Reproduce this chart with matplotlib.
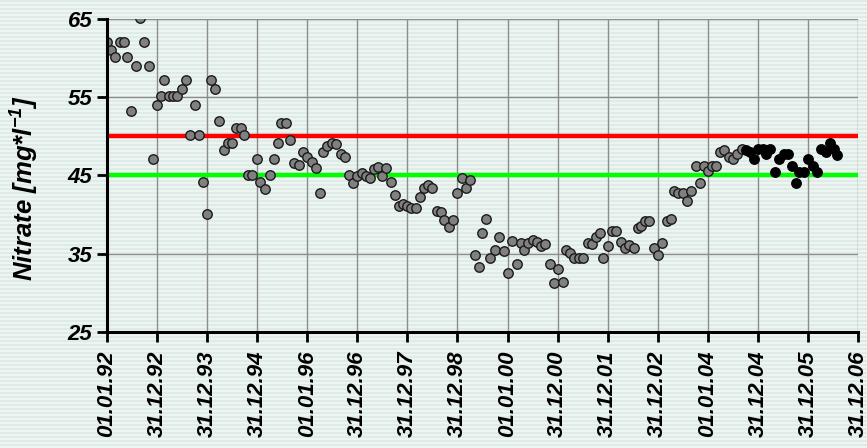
import numpy as np
import matplotlib
matplotlib.use("Agg")
import matplotlib.pyplot as plt

plt.rcParams['font.family'] = ['Liberation Sans', 'DejaVu Sans']
plt.rcParams['mathtext.fontset'] = 'custom'
plt.rcParams['mathtext.rm'] = 'Liberation Sans:italic:bold'
plt.rcParams['mathtext.it'] = 'Liberation Sans:italic:bold'

# x in years since 01.01.92, y nitrate mg/l
jahr_grau = [0.0, 0.08, 0.16, 0.25, 0.33, 0.39, 0.48, 0.57, 0.65, 0.73, 0.83, 0.91,
             1.0, 1.08, 1.14, 1.23, 1.31, 1.40, 1.49, 1.57, 1.66, 1.75, 1.83, 1.92,
             2.0, 2.07, 2.15, 2.24, 2.33, 2.41, 2.5, 2.58, 2.67, 2.73, 2.81, 2.9,
             2.99, 3.05, 3.16, 3.25, 3.33, 3.42, 3.48, 3.57, 3.65, 3.73, 3.83, 3.91,
             4.0, 4.09, 4.17, 4.26, 4.32, 4.4, 4.49, 4.57, 4.67, 4.75, 4.83, 4.92,
             5.0, 5.09, 5.17, 5.25, 5.33, 5.41, 5.5, 5.58, 5.67, 5.75, 5.84, 5.92,
             6.0, 6.08, 6.17, 6.25, 6.33, 6.42, 6.5, 6.59, 6.68, 6.74, 6.83, 6.91,
             7.0, 7.09, 7.17, 7.26, 7.35, 7.43, 7.49, 7.57, 7.66, 7.75, 7.83, 7.92,
             8.0, 8.09, 8.18, 8.27, 8.33, 8.41, 8.5, 8.59, 8.67, 8.75, 8.84, 8.93,
             9.0, 9.11, 9.16, 9.25, 9.33, 9.42, 9.51, 9.6, 9.68, 9.76, 9.85, 9.91,
             10.0, 10.09, 10.17, 10.26, 10.35, 10.43, 10.52, 10.6, 10.66, 10.75, 10.83, 10.92,
             11.0, 11.09, 11.18, 11.27, 11.32, 11.41, 11.5, 11.59, 11.67, 11.76, 11.85, 11.93,
             12.01, 12.09, 12.17, 12.25, 12.33, 12.42, 12.51, 12.59, 12.68]
nitrat_grau = [62.1, 61.1, 60.1, 62.1, 62.1, 60.1, 53.2, 59.0, 65.1, 62.1, 59.0, 47.1,
               54.0, 55.1, 57.2, 55.1, 55.1, 55.1, 56.1, 57.2, 50.2, 54.0, 50.2, 44.15,
               40.1, 57.2, 56.1, 52.0, 48.2, 49.1, 49.1, 51.1, 51.1, 50.2, 45.1, 45.1,
               47.1, 44.15, 43.3, 45.0, 47.1, 49.1, 51.7, 51.7, 49.5, 46.6, 46.3, 48.0,
               47.3, 46.7, 46.0, 42.8, 48.0, 48.8, 49.2, 49.0, 47.8, 47.3, 45.0, 44.1,
               44.9, 45.3, 44.9, 44.7, 45.8, 46.1, 44.9, 46.0, 44.15, 42.5, 41.05, 41.3,
               41.05, 40.9, 40.8, 42.3, 43.4, 43.8, 43.4, 40.5, 40.3, 39.35, 38.4, 39.35,
               42.8, 44.7, 43.4, 44.4, 34.9, 33.3, 37.7, 39.5, 34.4, 35.5, 37.1, 35.4,
               32.6, 36.6, 33.7, 36.4, 35.5, 36.4, 36.8, 36.5, 36.0, 36.2, 33.7, 31.2,
               33.0, 31.45, 35.5, 35.1, 34.4, 34.4, 34.4, 36.4, 36.2, 37.1, 37.7, 34.4,
               36.0, 37.95, 37.95, 36.5, 35.7, 36.1, 35.7, 38.25, 38.6, 39.2, 39.2, 35.7,
               34.9, 36.4, 39.2, 39.5, 43.0, 42.8, 42.7, 41.8, 43.0, 46.15, 44.0, 46.15,
               45.6, 46.2, 46.2, 48.0, 48.2, 47.3, 47.1, 47.8, 48.35]

jahr_schwarz = [12.77, 12.85, 12.93, 13.01, 13.1, 13.17, 13.25, 13.35, 13.43, 13.52,
                13.6, 13.68, 13.77, 13.83, 13.93, 14.01, 14.1, 14.19, 14.27, 14.36,
                14.44, 14.53, 14.58]
nitrat_schwarz = [48.2, 48.0, 47.1, 48.35, 48.35, 47.8, 48.35, 45.5, 47.1, 47.7,
                  47.7, 46.2, 44.0, 45.5, 45.5, 47.1, 46.2, 45.5, 48.35, 48.0,
                  49.1, 48.4, 47.6]

grenzwert = 50
richtwert = 45

datum = ["01.01.92", "31.12.92", "31.12.93", "31.12.94", "01.01.96", "31.12.96",
         "31.12.97", "31.12.98", "01.01.00", "31.12.00", "31.12.01", "31.12.02",
         "01.01.04", "31.12.04", "31.12.05", "31.12.06"]

fig = plt.figure(figsize=(8.67, 4.48), dpi=100)

# gestreifter Hintergrund
h, w = 448, 867
streifen = np.zeros((h, w, 3))
for r in range(h):
    if r % 4 < 2:
        streifen[r, :, :] = [0.878, 0.922, 0.902]
    else:
        streifen[r, :, :] = [0.933, 0.961, 0.949]
fig.figimage(streifen, 0, 0, zorder=-10)
fig.patch.set_alpha(0)

ax = fig.add_axes([0.1234, 0.259, 0.8662, 0.6986])
ax.patch.set_alpha(0)

ax.set_xlim(0, 15)
ax.set_ylim(25, 65)
ax.set_xticks(range(len(datum)))
ax.set_xticklabels(datum, rotation=90)
ax.set_yticks([25, 35, 45, 55, 65])
ax.grid(True, color='#8c8c8c', linewidth=1)
ax.set_axisbelow(True)

ax.axhline(grenzwert, color='#ff0000', linewidth=3.2, zorder=2)
ax.axhline(richtwert, color='#00ff00', linewidth=3.2, zorder=2)

ax.plot(jahr_grau, nitrat_grau, 'o', color='#808080', markeredgecolor='#1a1a1a',
        markersize=6.8, markeredgewidth=1.0, zorder=3)
ax.plot(jahr_schwarz, nitrat_schwarz, 'o', color='black', markeredgecolor='black',
        markersize=6.8, markeredgewidth=1.0, zorder=3)

for s in ['top', 'right']:
    ax.spines[s].set_visible(False)
for s in ['left', 'bottom']:
    ax.spines[s].set_linewidth(2.2)
    ax.spines[s].set_zorder(4)

ax.tick_params(axis='both', direction='out', length=7, width=2, labelsize=16)
ax.tick_params(axis='x', pad=6)
for lab in ax.get_xticklabels() + ax.get_yticklabels():
    lab.set_fontweight('bold')
    lab.set_fontstyle('italic')

ax.set_ylabel(r'Nitrate [mg*l$^{-1}$]', fontsize=18.5, fontweight='bold',
              fontstyle='italic')
ax.yaxis.set_label_coords(-0.088, 0.46)

fig.savefig('out.png', dpi=100)
